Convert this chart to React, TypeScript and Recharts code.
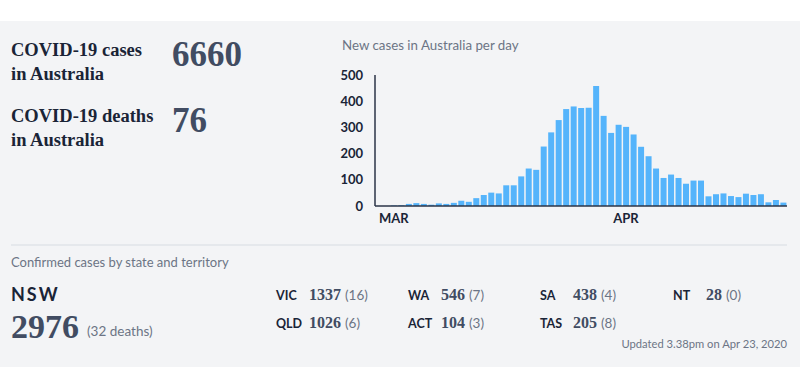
import React from "react";
import { BarChart, Bar, XAxis, YAxis } from "recharts";

const dates = [
  "Feb 28", "Feb 29",
  "Mar 1", "Mar 2", "Mar 3", "Mar 4", "Mar 5", "Mar 6", "Mar 7", "Mar 8", "Mar 9", "Mar 10",
  "Mar 11", "Mar 12", "Mar 13", "Mar 14", "Mar 15", "Mar 16", "Mar 17", "Mar 18", "Mar 19", "Mar 20",
  "Mar 21", "Mar 22", "Mar 23", "Mar 24", "Mar 25", "Mar 26", "Mar 27", "Mar 28", "Mar 29", "Mar 30", "Mar 31",
  "Apr 1", "Apr 2", "Apr 3", "Apr 4", "Apr 5", "Apr 6", "Apr 7", "Apr 8", "Apr 9", "Apr 10",
  "Apr 11", "Apr 12", "Apr 13", "Apr 14", "Apr 15", "Apr 16", "Apr 17", "Apr 18", "Apr 19", "Apr 20",
  "Apr 21", "Apr 22",
];

const newCases = [
  0, 0,
  2, 3, 8, 11, 8, 5, 10, 8, 12, 20,
  16, 30, 42, 51, 48, 79, 79, 113, 143, 138,
  227, 281, 328, 370, 380, 374, 375, 458, 344, 279, 310,
  302, 273, 226, 190, 143, 107, 120, 107, 85, 97,
  97, 37, 45, 48, 38, 34, 47, 42, 45, 14,
  23, 13,
];

const monthTicks = ["Mar 1", "Apr 1"];
const monthLabels = ["MAR", "APR"];
const yTicks = [0, 100, 200, 300, 400, 500];

const totalCases = "6660";
const totalDeaths = "76";

const nsw = { name: "NSW", cases: "2976", deaths: "32" };
const stateNames = ["VIC", "QLD", "WA", "ACT", "SA", "TAS", "NT"];
const stateCases = ["1337", "1026", "546", "104", "438", "205", "28"];
const stateDeaths = ["16", "6", "7", "3", "4", "8", "0"];
const updatedText = "Updated 3.38pm on Apr 23, 2020";

const chartData = dates.map((d, i) => ({ date: d, cases: newCases[i] }));

const NAVY = "#1a2437";
const SLATE = "#414c62";
const GRAY = "#6c7485";
const SERIF = "'Liberation Serif', serif";
const SANS = "Lato, 'Noto Sans', sans-serif";

const colX = [276, 276, 408, 408, 540, 540, 673];
const rowY = [300, 328, 300, 328, 300, 328, 300];

export default function App() {
  return (
    <div style={{ position: "absolute", left: 0, top: 0, width: 800, height: 367, background: "#ffffff", overflow: "hidden" }}>
      <svg width={800} height={367} style={{ position: "absolute", left: 0, top: 0 }}>
        <rect x={0} y={21} width={800} height={346} fill="#f3f4f6" />
        <text x={11} y={56} fontFamily={SERIF} fontWeight="bold" fontSize={18.5} fill={NAVY}>COVID-19 cases</text>
        <text x={11} y={80} fontFamily={SERIF} fontWeight="bold" fontSize={18.5} fill={NAVY}>in Australia</text>
        <text x={172} y={66} fontFamily={SERIF} fontWeight="bold" fontSize={35} fill={SLATE}>{totalCases}</text>
        <text x={11} y={122} fontFamily={SERIF} fontWeight="bold" fontSize={18.5} fill={NAVY}>COVID-19 deaths</text>
        <text x={11} y={146} fontFamily={SERIF} fontWeight="bold" fontSize={18.5} fill={NAVY}>in Australia</text>
        <text x={172} y={132} fontFamily={SERIF} fontWeight="bold" fontSize={35} fill={SLATE}>{totalDeaths}</text>

        <text x={342} y={50} fontFamily={SANS} fontSize={13.3} fill={GRAY}>New cases in Australia per day</text>

        <line x1={11} x2={787} y1={245} y2={245} stroke="#e1e4e9" strokeWidth={1.5} />
        <text x={11} y={267} fontFamily={SANS} fontSize={13} fill={GRAY}>Confirmed cases by state and territory</text>
        <text x={11} y={301} fontFamily={SANS} fontWeight="bold" fontSize={18} letterSpacing={2} fill={NAVY}>{nsw.name}</text>
        <text x={11} y={338} fontFamily={SERIF} fontWeight="bold" fontSize={34} fill={SLATE}>
          {nsw.cases}
          <tspan dx={8} fontFamily={SANS} fontWeight="normal" fontSize={13.5} fill={GRAY} dy={-2}>({nsw.deaths} deaths)</tspan>
        </text>

        {stateNames.map((s, i) => (
          <g key={s}>
            <text x={colX[i]} y={rowY[i]} fontFamily={SANS} fontWeight="bold" fontSize={12.5} fill={NAVY}>{s}</text>
            <text x={colX[i] + 33} y={rowY[i]} fontFamily={SERIF} fontWeight="bold" fontSize={16} fill={SLATE}>
              {stateCases[i]}
              <tspan dx={4} fontFamily={SANS} fontWeight="normal" fontSize={13.5} fill={GRAY}>({stateDeaths[i]})</tspan>
            </text>
          </g>
        ))}

        <text x={787} y={348} textAnchor="end" fontFamily={SANS} fontSize={11.2} fill={GRAY}>{updatedText}</text>
      </svg>

      <div style={{ position: "absolute", left: 330, top: 60 }}>
        <BarChart
          width={470}
          height={180}
          data={chartData}
          margin={{ top: 15, right: 13, bottom: 4, left: 5 }}
          barCategoryGap="12%"
        >
          <XAxis
            dataKey="date"
            ticks={monthTicks}
            interval={0}
            tickLine={false}
            axisLine={{ stroke: "#2b3547", strokeWidth: 1.5 }}
            tickFormatter={(v: string) => monthLabels[monthTicks.indexOf(v)] ?? ""}
            tick={{ fill: NAVY, fontFamily: SANS, fontWeight: 700, fontSize: 13 }}
            height={30}
          />
          <YAxis
            domain={[0, 500]}
            ticks={yTicks}
            interval={0}
            tickLine={false}
            tickMargin={6}
            axisLine={{ stroke: "#2b3547", strokeWidth: 1.5 }}
            tick={{ fill: NAVY, fontFamily: SANS, fontWeight: 700, fontSize: 13 }}
            width={40}
          />
          <Bar dataKey="cases" fill="#55b4fb" isAnimationActive={false} />
        </BarChart>
      </div>
    </div>
  );
}
